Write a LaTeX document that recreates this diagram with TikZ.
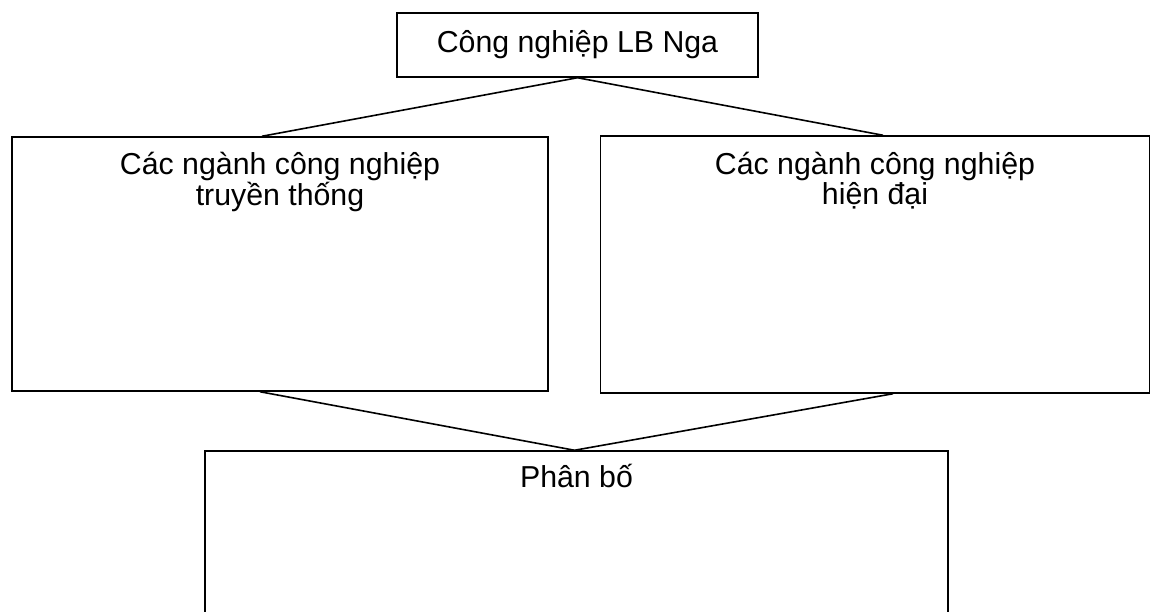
\documentclass[tikz,border=0pt]{standalone}
\usepackage{fontspec}
\setmainfont{Liberation Sans}
\usetikzlibrary{
  positioning
}

\begin{document}
\begin{tikzpicture}[
  x=1pt, y=-1pt,
  every node/.style={font=\fontsize{30.3}{29.5}\selectfont},
  frame/.style={draw, line width=1.5pt, inner sep=0pt},
  boxtext/.style={inner sep=0pt, align=center},
  link/.style={line width=1.6pt},
]
\useasboundingbox (0,0) rectangle (1152,612);
\clip (0,0) rectangle (1152,612);
\node[frame, minimum width=361pt, minimum height=64pt] (nga) at (577.5,45) {Công nghiệp LB Nga};
\node[frame, minimum width=536pt, minimum height=254pt] (trad) at (280,264) {};
\node[frame, minimum width=549pt, minimum height=257pt] (modern) at (875,264.5) {};
\node[frame, minimum width=743pt, minimum height=220pt] (spread) at (576.5,561) {};
\node[boxtext, below=16pt of trad.north] (tradtext) {Các ngành công nghiệp\\truyền thống};
\node[boxtext, below=17pt of modern.north] (moderntext) {Các ngành công nghiệp\\hiện đại};
\node[boxtext, below=14pt of spread.north] (spreadtext) {Phân bố};
\draw[link] (nga.south) -- ([xshift=-18pt]trad.north);
\draw[link] (nga.south) -- ([xshift=8pt]modern.north);
\draw[link] ([xshift=-20pt]trad.south) -- ([xshift=-2pt]spread.north);
\draw[link] ([xshift=18pt]modern.south) -- ([xshift=-2pt]spread.north);
\end{tikzpicture}
\end{document}
